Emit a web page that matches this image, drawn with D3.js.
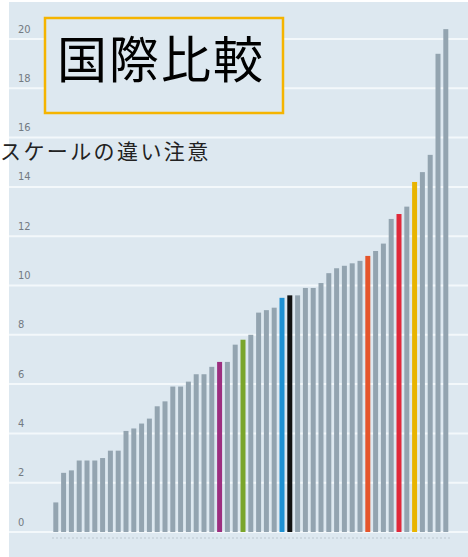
<!DOCTYPE html>
<html>
<head>
<meta charset="utf-8">
<title>国際比較</title>
<script src="https://d3js.org/d3.v7.min.js"></script>
<style>
  html, body { margin:0; padding:0; background:#fff; }
  svg { display:block; }
</style>
</head>
<body>
<svg id="chart" width="468" height="557"></svg>
<script>
  var width = 468,
      height = 557;

  // bar values, sorted ascending
  var categories = d3.range(1, 52).map(function(i) { return "c" + i; });
  var values = [1.2, 2.4, 2.5, 2.9, 2.9, 2.9, 3.0, 3.3, 3.3, 4.1,
                4.2, 4.4, 4.6, 5.1, 5.3, 5.9, 5.9, 6.1, 6.4, 6.4,
                6.7, 6.9, 6.9, 7.6, 7.8, 8.0, 8.9, 9.0, 9.1, 9.5,
                9.6, 9.6, 9.9, 9.9, 10.1, 10.5, 10.7, 10.8, 10.9, 11.0,
                11.2, 11.4, 11.7, 12.7, 12.9, 13.2, 14.2, 14.6, 15.3, 19.4,
                20.4];
  // highlighted bars (1-based position -> colour)
  var highlight = { c22: "#9c2f80", c25: "#7aa52b", c30: "#1e90d2", c31: "#111111",
                    c41: "#e5552b", c45: "#e0283a", c47: "#e8b400" };
  var yTicks = [0, 2, 4, 6, 8, 10, 12, 14, 16, 18, 20];
  var title = "国際比較";
  var note = "スケールの違い注意";

  var svg = d3.select("#chart");

  // panel
  svg.append("rect")
    .attr("x", 9).attr("y", 2)
    .attr("width", width - 9).attr("height", height - 2)
    .attr("fill", "#dde8f0");

  var y = d3.scaleLinear().domain([0, 20]).range([532, 39]);
  var x = d3.scaleBand()
    .domain(categories)
    .range([51.9, 449.7])
    .paddingInner(0.36)
    .paddingOuter(0.18);

  // gridlines + tick labels
  var grid = svg.append("g");
  grid.selectAll("line").data(yTicks).enter().append("line")
    .attr("x1", 9).attr("x2", width)
    .attr("y1", function(d) { return y(d); })
    .attr("y2", function(d) { return y(d); })
    .attr("stroke", "#f3f8fb")
    .attr("stroke-width", 2);
  grid.selectAll("text").data(yTicks).enter().append("text")
    .attr("x", 18)
    .attr("y", function(d) { return y(d) - 10; })
    .attr("dominant-baseline", "central")
    .style("font-family", "'Liberation Sans Narrow', 'DejaVu Sans Condensed', sans-serif")
    .style("font-size", "11px")
    .style("fill", "#737a82")
    .text(function(d) { return d; });

  // faint axis under the bars
  svg.append("line")
    .attr("x1", 52).attr("x2", 450)
    .attr("y1", 538).attr("y2", 538)
    .attr("stroke", "#cdd8e0")
    .attr("stroke-width", 2)
    .attr("stroke-dasharray", "2,2");

  // bars
  svg.append("g").selectAll("rect")
    .data(categories)
    .enter().append("rect")
    .attr("x", function(d) { return x(d); })
    .attr("width", x.bandwidth())
    .attr("y", function(d, i) { return y(values[i]); })
    .attr("height", function(d, i) { return y(0) - y(values[i]); })
    .attr("fill", function(d) { return highlight[d] || "#93a4b0"; });

  // title box
  svg.append("rect")
    .attr("x", 45).attr("y", 18)
    .attr("width", 238).attr("height", 95)
    .attr("fill", "#dde8f0")
    .attr("stroke", "#f5b400")
    .attr("stroke-width", 2.5);
  svg.append("text")
    .attr("x", 57).attr("y", 78)
    .style("font-family", "'Noto Sans CJK JP', sans-serif")
    .style("font-size", "50px")
    .style("letter-spacing", "2px")
    .style("fill", "#000")
    .text(title);

  svg.append("text")
    .attr("x", 0).attr("y", 159)
    .style("font-family", "'Noto Sans CJK JP', sans-serif")
    .style("font-size", "21px")
    .style("letter-spacing", "2.4px")
    .style("fill", "#222")
    .text(note);
</script>
</body>
</html>
